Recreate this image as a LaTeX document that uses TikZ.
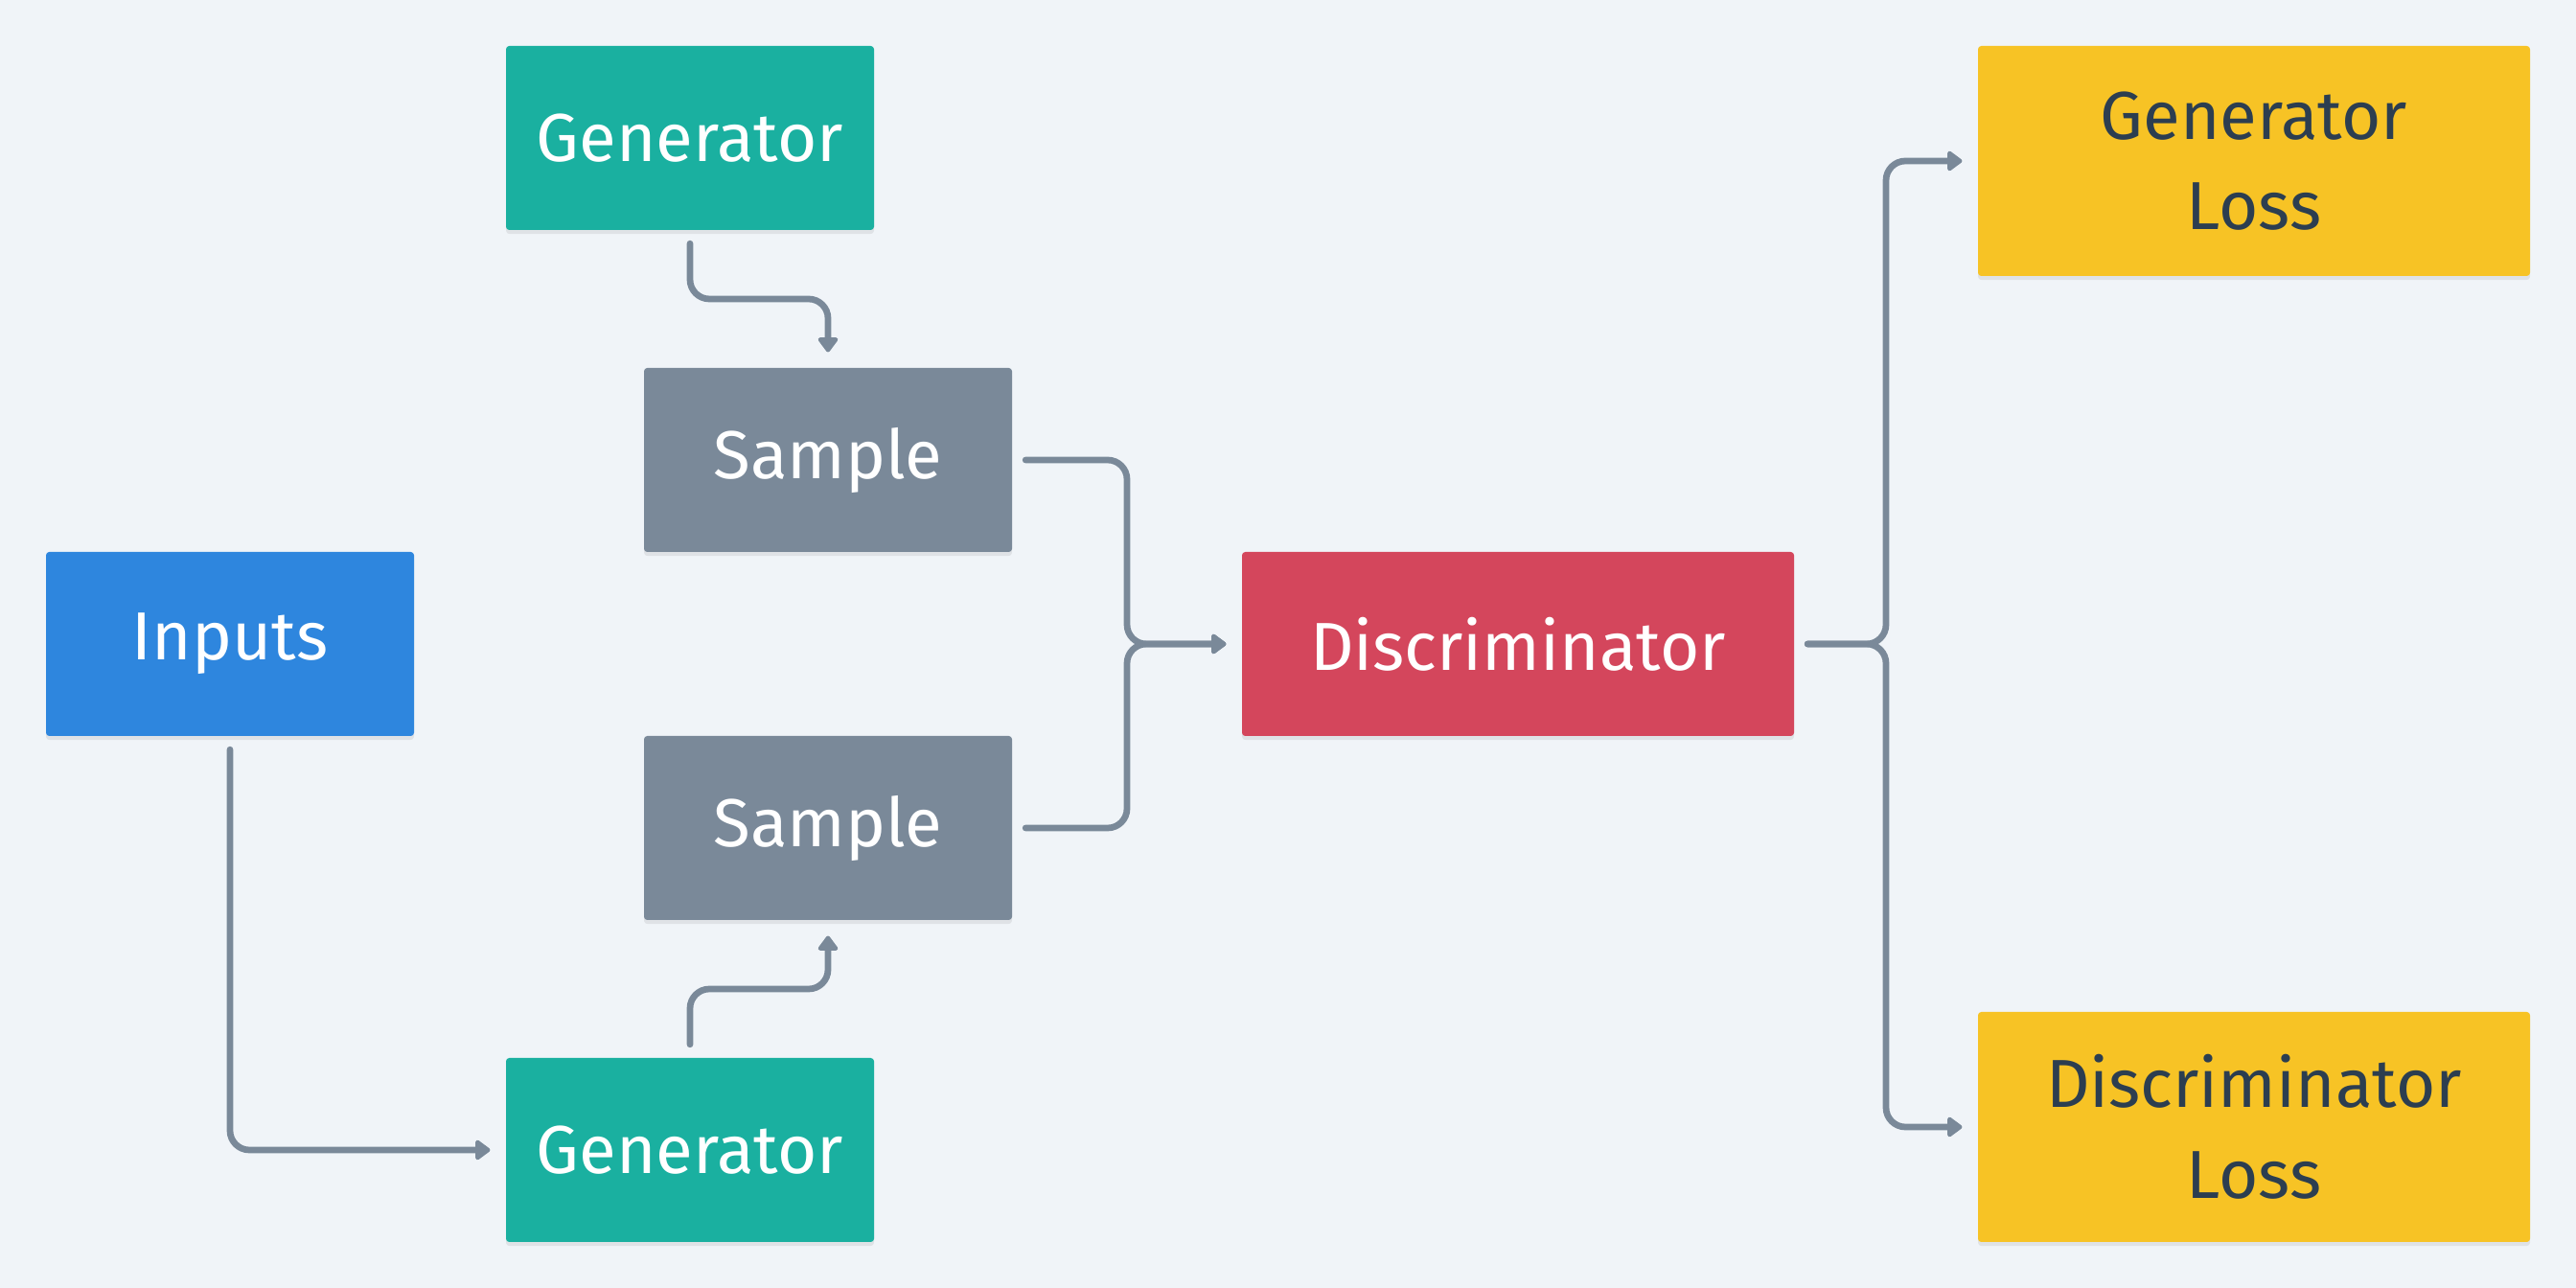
\documentclass[tikz,border=0pt]{standalone}
\usepackage{fontspec}
\setmainfont{Fira Sans}
\usepackage{tikz}
\usetikzlibrary{positioning,arrows.meta,calc,shadows}
\definecolor{bgcol}{RGB}{240,244,248}
\definecolor{teal}{RGB}{26,176,160}
\definecolor{slate}{RGB}{122,137,153}
\definecolor{azure}{RGB}{46,134,222}
\definecolor{crimson}{RGB}{212,70,92}
\definecolor{amber}{RGB}{247,195,37}
\definecolor{ink}{RGB}{44,62,80}

\begin{document}
\begin{tikzpicture}[x=0.5cm,y=0.5cm,
    block/.style={rounded corners=1pt,minimum width=4cm,minimum height=2cm,
      text=white,align=center,font=\fontsize{21}{28}\selectfont,
      drop shadow={shadow xshift=0pt,shadow yshift=-1.2pt,opacity=0.07,fill=black}},
    flow/.style={slate,line width=2pt,line cap=round,rounded corners=6pt,
      shorten <=4pt,shorten >=4.7pt,-{Triangle[width=7pt,length=5pt,round]}}]
  % canvas
  \fill[bgcol] (0,0) rectangle (56,28);
  % boxes
  \node[block,fill=teal] (gentop) at (15,25) {Generator};
  \node[block,fill=slate] (samptop) at (18,18) {Sample};
  \node[block,fill=azure] (inputs) at (5,14) {Inputs};
  \node[block,fill=slate] (sampbot) at (18,10) {Sample};
  \node[block,fill=teal] (genbot) at (15,3) {Generator};
  \node[block,fill=crimson,minimum width=6cm] (disc) at (33,14) {Discriminator};
  \node[block,fill=amber,text=ink,minimum width=6cm,minimum height=2.5cm] (genloss) at (49,24.5) {Generator\\Loss};
  \node[block,fill=amber,text=ink,minimum width=6cm,minimum height=2.5cm] (discloss) at (49,3.5) {Discriminator\\Loss};
  % generators to samples
  \coordinate (m1) at ($(gentop.south)!0.5!(samptop.north)$);
  \draw[flow] (gentop.south) |- (m1) -| (samptop.north);
  \coordinate (m2) at ($(genbot.north)!0.5!(sampbot.south)$);
  \draw[flow] (genbot.north) |- (m2) -| (sampbot.south);
  \draw[flow] (inputs.south) |- (genbot.west);
  % samples into discriminator
  \coordinate (m3) at ($(samptop.east)!0.5!(disc.west)$);
  \draw[flow] (samptop.east) -| (m3) |- (disc.west);
  \coordinate (m4) at ($(sampbot.east)!0.5!(disc.west)$);
  \draw[flow] (sampbot.east) -| (m4) |- (disc.west);
  % discriminator to losses
  \coordinate (m5) at ($(disc.east)!0.5!(genloss.west)$);
  \draw[flow] (disc.east) -| (m5) |- (genloss.west);
  \coordinate (m6) at ($(disc.east)!0.5!(discloss.west)$);
  \draw[flow] (disc.east) -| (m6) |- (discloss.west);
\end{tikzpicture}
\end{document}
